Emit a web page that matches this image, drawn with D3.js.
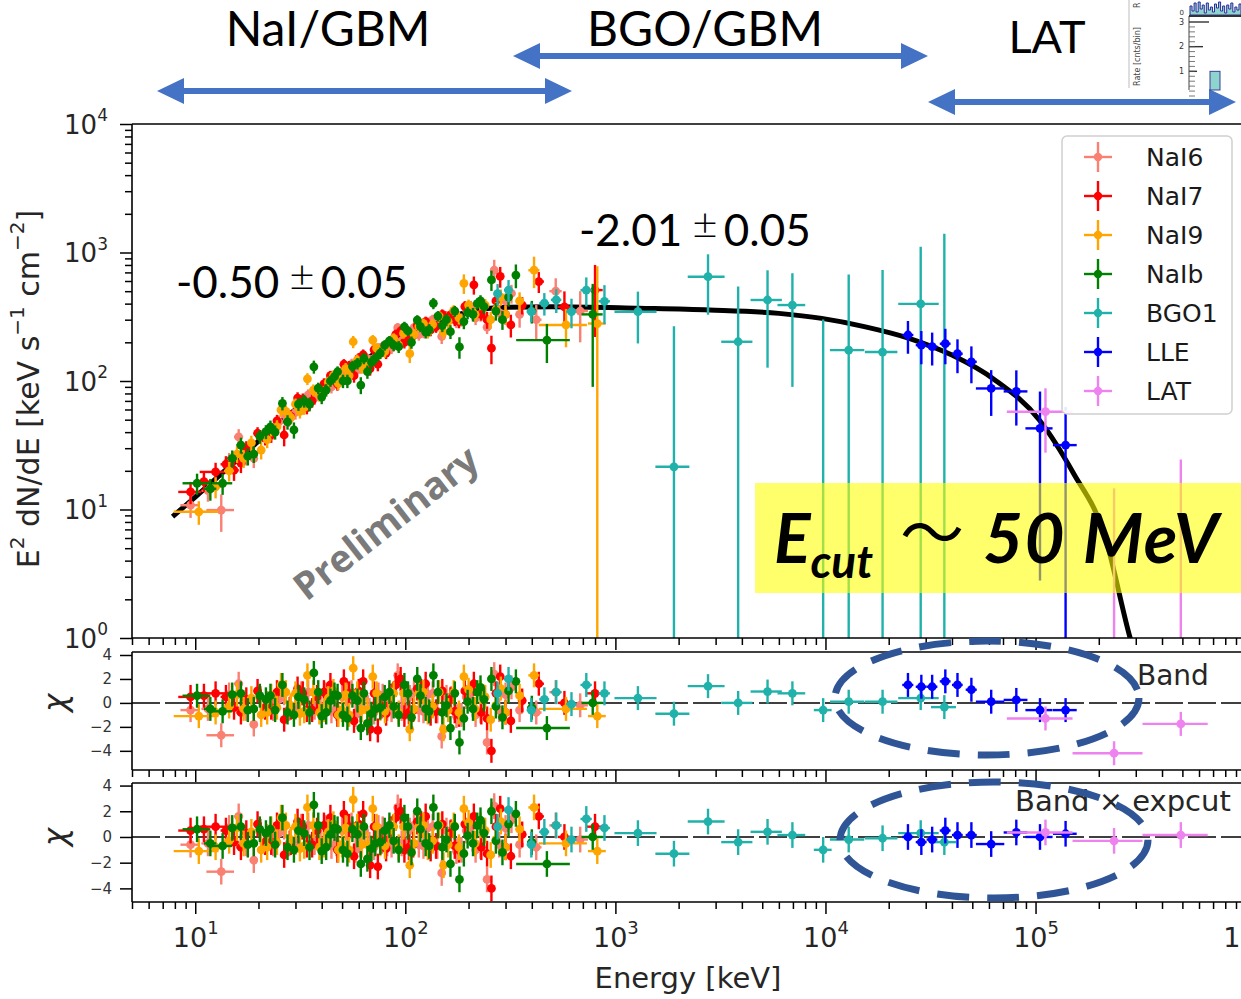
<!DOCTYPE html>
<html>
<head>
<meta charset="utf-8">
<script src="https://cdn.jsdelivr.net/npm/d3@7"></script>
<style>
  body { margin: 0; background: #fff; }
  svg { display: block; }
</style>
</head>
<body>
<div id="chart"></div>
<script>
// ---- data ----
// rows: [energy keV, half bin width keV, E2dN/dE, error, chi (same for both fits)]
const NAI6 = [
  [9.5, 1.0, 10.8, 2.2, -0.6], [13.3, 2.0, 9.9, 3.2, -2.7], [16.1, 0.8, 36.7, 5.5, 1.6],
  [19.0, 0.8, 25.0, 4.0, -1.8], [22.0, 0.9, 38.0, 5.0, 0.0], [25.0, 1.0, 48.0, 6.0, 0.3],
  [28.0, 1.0, 50.0, 6.0, -0.5], [32.0, 1.2, 70.0, 8.0, 0.8], [37.0, 1.3, 74.0, 9.0, -0.4],
  [42.0, 1.5, 95.0, 10.0, 0.7], [47.0, 1.6, 98.0, 11.0, -0.5], [53.0, 1.8, 125.0, 13.0, 0.6],
  [58.0, 2.0, 120.0, 13.0, -1.0], [64.0, 2.2, 155.0, 16.0, 0.5], [71.0, 2.4, 150.0, 16.0, -0.8],
  [78.0, 2.6, 185.0, 18.0, 0.6], [86.0, 2.8, 180.0, 18.0, -0.6], [92.0, 3.0, 260.0, 22.0, 2.3],
  [100.0, 3.2, 215.0, 20.0, -0.4], [110.0, 3.5, 260.0, 24.0, 0.9], [122.0, 4.0, 240.0, 25.0, -0.7],
  [135.0, 4.5, 300.0, 28.0, 0.8], [149.0, 5.0, 222.0, 28.0, -2.8], [165.0, 5.5, 330.0, 32.0, 0.4],
  [185.0, 6.0, 300.0, 35.0, -1.0], [205.0, 7.0, 380.0, 40.0, 0.8], [228.0, 8.0, 330.0, 40.0, -0.7],
  [245.0, 8.0, 262.0, 30.0, -3.3], [265.0, 9.0, 728.0, 150.0, 2.4], [300.0, 12.0, 420.0, 60.0, 0.7],
  [350.0, 15.0, 330.0, 70.0, -0.6], [420.0, 25.0, 300.0, 90.0, -0.8], [520.0, 35.0, 500.0, 130.0, 0.9],
  [680.0, 60.0, 350.0, 150.0, -0.2],
  [11.5, 0.8, 14.0, 2.5, -0.5], [14.5, 0.8, 24.0, 3.5, 0.7], [17.5, 0.8, 26.0, 4.0, -0.5],
  [20.5, 0.8, 37.0, 4.5, 0.4], [23.5, 0.9, 40.0, 5.0, -0.5], [26.5, 1.0, 55.0, 6.0, 0.8],
  [30.0, 1.1, 57.0, 7.0, -0.4], [34.5, 1.2, 78.0, 8.0, 0.9], [39.5, 1.3, 80.0, 9.0, -0.3],
  [44.5, 1.5, 90.0, 10.0, -0.7], [50.0, 1.7, 118.0, 12.0, 0.5], [55.5, 1.9, 135.0, 14.0, 0.9],
  [61.0, 2.1, 128.0, 14.0, -0.6], [67.5, 2.3, 145.0, 15.0, -0.6], [74.5, 2.5, 180.0, 17.0, 0.7],
  [82.0, 2.7, 175.0, 18.0, -0.5], [96.0, 3.1, 205.0, 20.0, -0.5], [105.0, 3.4, 240.0, 22.0, 0.5],
  [116.0, 3.8, 230.0, 24.0, -0.6], [128.0, 4.2, 285.0, 27.0, 0.7], [142.0, 4.6, 270.0, 28.0, -0.7],
  [157.0, 5.2, 320.0, 30.0, 0.5], [175.0, 5.8, 290.0, 32.0, -1.1], [195.0, 6.5, 360.0, 36.0, 0.5],
  [216.0, 7.0, 310.0, 38.0, -1.0], [280.0, 10.0, 340.0, 50.0, -0.6], [320.0, 12.0, 480.0, 80.0, 1.3]
];
const NAI7 = [
  [9.5, 1.2, 13.7, 2.7, 0.5], [12.5, 2.0, 19.6, 3.5, 0.8], [15.3, 0.8, 20.2, 3.5, -0.4],
  [17.5, 0.8, 30.0, 4.0, 0.3], [19.8, 0.8, 39.2, 4.5, 1.0], [23.0, 0.9, 38.0, 5.0, -0.4],
  [26.5, 1.0, 38.0, 7.0, -1.4], [30.7, 1.1, 73.7, 8.0, 1.2], [34.0, 1.2, 62.0, 7.0, -0.6],
  [38.0, 1.3, 85.0, 8.0, 0.5], [44.0, 1.5, 110.0, 10.0, 1.5], [51.0, 1.7, 135.0, 13.0, 1.8],
  [57.0, 1.9, 110.0, 13.0, -1.5], [63.0, 2.1, 160.0, 16.0, 1.8], [68.0, 2.3, 125.0, 15.0, -2.2],
  [74.0, 2.5, 135.0, 16.0, -2.3], [77.0, 2.6, 170.0, 17.0, -0.3], [85.0, 2.8, 205.0, 19.0, 0.6],
  [95.0, 3.0, 245.0, 22.0, 2.0], [104.0, 3.3, 210.0, 21.0, -0.8], [114.0, 3.7, 271.0, 25.0, 1.2],
  [125.0, 4.0, 290.0, 27.0, 1.6], [140.0, 4.5, 265.0, 28.0, -0.7], [164.0, 5.5, 325.0, 32.0, 0.3],
  [180.0, 6.0, 290.0, 33.0, -1.0], [212.0, 7.0, 560.0, 90.0, 1.6], [230.0, 8.0, 330.0, 35.0, -0.8],
  [257.0, 9.0, 180.0, 45.0, -4.0], [283.0, 10.0, 652.0, 120.0, 2.2], [318.0, 13.0, 273.0, 55.0, -1.5],
  [360.0, 16.0, 390.0, 60.0, 0.2], [432.0, 25.0, 594.0, 110.0, 1.6], [572.0, 40.0, 378.0, 120.0, 0.0],
  [800.0, 70.0, 510.0, 290.0, 0.8],
  [11.0, 0.8, 16.5, 2.8, 0.6], [14.0, 0.8, 22.5, 3.5, 0.5], [16.5, 0.8, 23.0, 3.8, -0.8],
  [21.5, 0.9, 36.0, 4.5, -0.4], [24.5, 0.9, 49.0, 5.5, 0.9], [28.5, 1.0, 53.0, 6.5, -0.4],
  [32.5, 1.1, 72.0, 8.0, 0.8], [36.0, 1.2, 70.0, 8.0, -0.6], [41.0, 1.4, 95.0, 10.0, 0.9],
  [47.5, 1.6, 95.0, 11.0, -1.0], [54.0, 1.8, 130.0, 13.0, 0.8], [60.0, 2.0, 150.0, 15.0, 1.0],
  [71.0, 2.4, 175.0, 17.0, 0.8], [81.0, 2.7, 165.0, 17.0, -0.9], [90.0, 3.0, 230.0, 21.0, 1.5],
  [99.0, 3.2, 200.0, 21.0, -1.0], [109.0, 3.6, 225.0, 23.0, -0.6], [119.0, 3.9, 275.0, 26.0, 1.0],
  [132.0, 4.3, 250.0, 27.0, -0.9], [150.0, 5.0, 330.0, 31.0, 1.0], [172.0, 5.7, 300.0, 33.0, -0.7],
  [192.0, 6.3, 380.0, 38.0, 1.0], [245.0, 8.5, 300.0, 45.0, -1.3], [270.0, 9.5, 420.0, 60.0, 0.8],
  [300.0, 11.0, 330.0, 55.0, -0.8]
];
const NAI9 = [
  [10.4, 2.5, 9.6, 2.0, -1.1], [14.5, 0.8, 20.0, 3.5, -0.3], [17.0, 0.8, 25.0, 4.0, -0.5],
  [20.6, 0.8, 29.0, 4.5, -1.0], [23.0, 0.9, 42.0, 5.0, 0.6], [25.6, 1.0, 59.6, 7.0, 1.5],
  [28.5, 1.0, 52.0, 6.0, -0.2], [31.5, 1.1, 58.0, 7.0, -0.9], [34.2, 1.2, 104.0, 11.0, 2.3],
  [39.0, 1.3, 78.0, 9.0, -0.8], [43.0, 1.5, 98.0, 10.0, 0.4], [48.0, 1.6, 96.0, 11.0, -1.0],
  [52.0, 1.7, 125.0, 13.0, 0.7], [56.5, 1.9, 202.0, 22.0, 2.9], [62.0, 2.1, 128.0, 14.0, -0.6],
  [70.0, 2.3, 208.0, 20.0, 2.2], [76.0, 2.5, 165.0, 17.0, -0.5], [84.0, 2.8, 200.0, 19.0, 0.5],
  [93.0, 3.0, 190.0, 20.0, -0.8], [105.0, 3.3, 163.0, 25.0, -2.2], [116.0, 3.7, 265.0, 25.0, 0.8],
  [128.0, 4.0, 240.0, 26.0, -0.8], [152.0, 5.0, 240.0, 28.0, -2.2], [170.0, 5.5, 355.0, 34.0, 0.9],
  [190.0, 6.0, 576.0, 100.0, 2.2], [215.0, 7.0, 330.0, 38.0, -0.5], [240.0, 8.0, 390.0, 45.0, 0.5],
  [270.0, 9.0, 360.0, 50.0, -0.2], [300.0, 10.0, 330.0, 55.0, -0.8], [350.0, 15.0, 420.0, 70.0, 0.6],
  [410.0, 25.0, 728.0, 200.0, 2.3], [582.0, 150.0, 273.0, 90.0, -0.5], [820.0, 80.0, 280.0, 500.0, -1.1],
  [12.5, 0.8, 15.0, 2.8, -0.8], [15.8, 0.8, 27.0, 4.0, 0.7], [18.5, 0.8, 33.0, 4.5, 0.4],
  [22.0, 0.9, 35.0, 5.0, -0.8], [24.5, 0.9, 44.0, 5.5, -0.4], [27.0, 1.0, 58.0, 6.5, 0.9],
  [30.0, 1.1, 66.0, 7.0, 0.8], [33.0, 1.1, 62.0, 7.5, -0.7], [36.5, 1.2, 85.0, 9.0, 0.9],
  [41.0, 1.4, 82.0, 9.5, -0.6], [45.5, 1.5, 110.0, 11.0, 1.0], [50.0, 1.7, 105.0, 12.0, -0.6],
  [54.0, 1.8, 110.0, 13.0, -1.0], [59.0, 2.0, 145.0, 15.0, 0.8], [66.0, 2.2, 140.0, 15.0, -0.6],
  [73.0, 2.4, 180.0, 17.0, 0.8], [80.0, 2.6, 170.0, 18.0, -0.7], [88.0, 2.9, 215.0, 20.0, 0.8],
  [98.0, 3.2, 235.0, 22.0, 0.8], [110.0, 3.6, 230.0, 24.0, -0.5], [122.0, 4.0, 280.0, 26.0, 0.9],
  [135.0, 4.5, 275.0, 28.0, -0.3], [145.0, 4.8, 320.0, 30.0, 0.9], [160.0, 5.3, 290.0, 32.0, -0.6],
  [180.0, 6.0, 310.0, 35.0, -0.8], [200.0, 6.5, 390.0, 40.0, 1.1], [228.0, 7.5, 400.0, 45.0, 0.9],
  [255.0, 8.5, 300.0, 45.0, -1.4], [285.0, 9.5, 450.0, 65.0, 1.2]
];
const NAIB = [
  [10.2, 1.5, 16.0, 3.0, 0.6], [13.5, 1.5, 16.0, 3.0, -0.7], [16.5, 0.8, 31.7, 4.5, 0.8],
  [19.0, 0.8, 27.0, 4.0, -0.5], [21.7, 0.9, 40.3, 5.0, 0.3], [24.0, 0.9, 40.0, 5.0, -0.6],
  [26.0, 1.0, 67.0, 8.0, 1.5], [29.5, 1.0, 41.6, 6.0, -1.0], [33.0, 1.1, 70.0, 8.0, 0.3],
  [36.7, 1.2, 129.0, 15.0, 2.5], [40.0, 1.4, 75.0, 9.0, -1.1], [44.0, 1.5, 100.0, 10.0, 0.2],
  [47.6, 1.6, 118.0, 12.0, 0.6], [53.0, 1.8, 100.0, 12.0, -1.3], [59.2, 2.0, 137.0, 14.0, 0.2],
  [61.4, 2.1, 93.0, 14.0, -2.1], [66.0, 2.2, 118.0, 14.0, -1.7], [72.0, 2.4, 150.0, 16.0, -0.5],
  [79.8, 2.6, 190.0, 18.0, 0.5], [88.0, 2.9, 190.0, 19.0, -0.3], [99.0, 3.2, 264.0, 25.0, 1.5],
  [107.0, 3.5, 200.0, 22.0, -1.2], [114.0, 3.7, 298.0, 27.0, 2.0], [125.0, 4.0, 240.0, 26.0, -0.5],
  [136.0, 4.5, 402.0, 40.0, 2.3], [150.0, 5.0, 270.0, 30.0, -0.8], [164.0, 5.5, 242.0, 30.0, -2.1],
  [181.0, 6.0, 184.0, 35.0, -3.3], [198.0, 6.5, 340.0, 38.0, 0.1], [220.0, 7.0, 400.0, 40.0, 0.9],
  [237.0, 8.0, 379.0, 45.0, 0.3], [257.0, 9.0, 612.0, 110.0, 2.0], [290.0, 10.0, 300.0, 50.0, -1.2],
  [336.0, 14.0, 667.0, 140.0, 1.8], [400.0, 20.0, 350.0, 70.0, -0.4], [472.0, 135.0, 208.0, 70.0, -2.1],
  [780.0, 90.0, 330.0, 240.0, 0.0],
  [11.8, 0.8, 14.5, 2.8, -0.5], [15.0, 0.8, 25.0, 3.8, 0.7], [17.8, 0.8, 26.0, 4.0, -0.6],
  [20.3, 0.8, 37.0, 4.5, 0.6], [22.8, 0.9, 44.0, 5.2, 0.6], [27.5, 1.0, 48.0, 6.2, -0.8],
  [31.0, 1.1, 66.0, 7.5, 0.5], [35.0, 1.2, 66.0, 8.0, -0.8], [38.5, 1.3, 88.0, 9.0, 0.9],
  [42.0, 1.4, 85.0, 9.5, -0.8], [46.0, 1.5, 108.0, 11.0, 0.7], [50.5, 1.7, 100.0, 12.0, -1.0],
  [56.0, 1.9, 130.0, 13.5, 0.6], [63.5, 2.1, 150.0, 15.0, 0.8], [69.0, 2.3, 140.0, 16.0, -0.9],
  [76.0, 2.5, 165.0, 17.0, -0.4], [84.0, 2.8, 205.0, 19.0, 0.9], [93.0, 3.0, 185.0, 20.0, -1.0],
  [103.0, 3.4, 245.0, 22.0, 0.8], [118.0, 3.9, 265.0, 25.0, 0.6], [130.0, 4.3, 250.0, 27.0, -0.7],
  [143.0, 4.7, 320.0, 30.0, 0.9], [157.0, 5.2, 300.0, 31.0, -0.2], [172.0, 5.7, 350.0, 34.0, 0.8],
  [190.0, 6.3, 290.0, 37.0, -1.3], [210.0, 7.0, 330.0, 40.0, -0.5], [228.0, 7.5, 420.0, 45.0, 1.3],
  [270.0, 9.5, 350.0, 55.0, -0.3], [310.0, 11.0, 450.0, 70.0, 1.0]
];
// rows: [energy, half width, E2dN/dE, error, chi Band, chi Band x expcut]
const BGO1 = [
  [275, 12, 478, 90, 0.8, 0.8], [310, 15, 510, 100, 2.0, 2.1], [398, 20, 347, 60, -0.6, -0.6],
  [459, 25, 403, 80, 0.3, 0.4], [523, 30, 428, 90, 0.9, 0.9], [618, 35, 347, 90, -0.1, -0.2],
  [727, 45, 510, 130, 1.5, 1.4], [887, 55, 417, 140, 0.8, 0.7], [1280, 290, 346, 150, 0.4, 0.3],
  [1900, 350, 21.5, 245, -0.9, -1.3], [2760, 550, 648, 320, 1.4, 1.2], [3840, 650, 202, 342, 0.0, -0.4],
  [5300, 900, 427, 300, 0.95, 0.4], [6960, 1050, 390, 300, 0.8, 0.15], [9750, 950, 0.5, 300, -0.6, -1.0],
  [12900, 2400, 174, 500, 0.1, -0.2], [18700, 3300, 168, 563, 0.1, -0.1], [28400, 6200, 398, 712, 0.4, 0.3],
  [36800, 5000, 0.5, 1400, -0.35, -0.4]
];
const LLE = [
  [24700, 1500, 228, 65, 1.5, 0.0], [28600, 1700, 190, 55, 1.35, -0.4], [32200, 1900, 185, 53, 1.35, -0.2],
  [37200, 2200, 195, 60, 1.8, 0.5], [42500, 2500, 163, 48, 1.5, 0.15], [49500, 3000, 141, 45, 1.1, 0.15],
  [61500, 9500, 87.5, 34, 0.1, -0.55], [81000, 10500, 83, 38, 0.25, 0.35], [105000, 15500, 42.8, 40, -0.6, 0.0],
  [139000, 18000, 31.7, 31, -0.6, 0.25]
];
const LAT = [
  [111500, 38500, 57.7, 30, -1.3, 0.35], [236500, 86500, 0.6, 14, -4.2, -0.3],
  [491500, 168500, 0.5, 24, -1.75, 0.15]
];
// best fit model curve (Band x exponential cutoff)
const MODEL_E = [7.8, 10, 15, 20, 30, 50, 70, 100, 150, 200, 300, 500, 1300, 2800, 6000, 9600,
                 15500, 25000, 40000, 64000, 104000, 152000, 212000, 282000, 320000];
const MODEL_F = [8.8, 12.5, 22.5, 34, 60, 112, 160, 225, 300, 345, 375, 378, 368, 357, 336, 307,
                 264, 215, 159, 102, 50, 19, 6.5, 1.0, 0.5];

const SERIES_NAMES = ["NaI6", "NaI7", "NaI9", "NaIb", "BGO1", "LLE", "LAT"];
const SERIES_COLORS = ["#fa8072", "#ff0000", "#ffa500", "#008000", "#20b2aa", "#0000ff", "#ee82ee"];
const SERIES_DATA = [NAI6, NAI7, NAI9, NAIB, BGO1, LLE, LAT];

const X_MAJOR = [1e1, 1e2, 1e3, 1e4, 1e5, 1e6];
const X_EXP = ["1", "2", "3", "4", "5", "6"];
const Y_MAJOR = [1, 10, 100, 1000, 10000];
const Y_EXP = ["0", "1", "2", "3", "4"];
const RES_TICKS = [-4, -2, 0, 2, 4];
const RES_LABELS = ["\u22124", "\u22122", "0", "2", "4"];

// ---- layout ----
const W = 1241, H = 999;
const LEFT = 132, RIGHT = 1273;
const MAIN = {top: 124, bottom: 638};
const RES1 = {top: 652, bottom: 770};
const RES2 = {top: 783, bottom: 902};
const AXIS_FONT = "DejaVu Sans, sans-serif";
const SLIDE_FONT = "Lato, 'Open Sans', sans-serif";

const svg = d3.select("#chart").append("svg")
    .attr("width", W).attr("height", H)
    .attr("viewBox", `0 0 ${W} ${H}`);

const x = d3.scaleLog().domain([5, 1.35e6]).range([LEFT, RIGHT]);
const yMain = d3.scaleLog().domain([1, 1e4]).range([MAIN.bottom, MAIN.top]);
const yR1 = d3.scaleLinear().domain([-5.6, 4.25]).range([RES1.bottom, RES1.top]);
const yR2 = d3.scaleLinear().domain([-5.06, 4.2]).range([RES2.bottom, RES2.top]);

// minor tick values for log axes, kept inside the domain
function minors(scale) {
  const [lo, hi] = scale.domain();
  const out = [];
  for (let d = 1; d < hi; d *= 10) {
    for (let k = 2; k <= 9; k++) if (d * k >= lo && d * k <= hi) out.push(d * k);
  }
  return out;
}
const X_MINOR = minors(x);
const Y_MINOR = minors(yMain);

// clip paths
const defs = svg.append("defs");
[["clipMain", MAIN], ["clipR1", RES1], ["clipR2", RES2]].forEach(([id, p]) => {
  defs.append("clipPath").attr("id", id).append("rect")
      .attr("x", LEFT).attr("y", p.top).attr("width", W - LEFT).attr("height", p.bottom - p.top);
});

// ---- error bar drawing ----
function errorbars(g, rows, color, yS, getV, getE, isLog) {
  const floor = yS.range()[0] + 30;
  const yv = v => (isLog ? (v > 0 ? yS(v) : floor) : yS(v));
  const s = g.append("g").attr("stroke", color).attr("stroke-width", 2.4);
  s.selectAll("line.v").data(rows).join("line")
      .attr("x1", d => x(d[0])).attr("x2", d => x(d[0]))
      .attr("y1", d => yv(getV(d) + getE(d))).attr("y2", d => yv(getV(d) - getE(d)));
  s.selectAll("line.h").data(rows).join("line")
      .attr("x1", d => x(d[0] - d[1])).attr("x2", d => x(d[0] + d[1]))
      .attr("y1", d => yv(getV(d))).attr("y2", d => yv(getV(d)));
  g.append("g").attr("fill", color).selectAll("circle").data(rows).join("circle")
      .attr("cx", d => x(d[0])).attr("cy", d => yv(getV(d))).attr("r", 4.4);
}

// ---- main panel ----
const gMain = svg.append("g").attr("clip-path", "url(#clipMain)");
const model = MODEL_E.map((e, i) => [e, MODEL_F[i]]);
gMain.append("path")
    .datum(model)
    .attr("fill", "none").attr("stroke", "#000").attr("stroke-width", 5)
    .attr("d", d3.line().x(d => x(d[0])).y(d => yMain(d[1])).curve(d3.curveMonotoneX));

SERIES_DATA.forEach((rows, i) => {
  errorbars(gMain, rows, SERIES_COLORS[i], yMain, d => d[2], d => d[3], true);
});

// ---- residual panels ----
const gR1 = svg.append("g").attr("clip-path", "url(#clipR1)");
const gR2 = svg.append("g").attr("clip-path", "url(#clipR2)");
[[gR1, yR1], [gR2, yR2]].forEach(([g, yS]) => {
  g.append("line")
      .attr("x1", LEFT).attr("x2", W).attr("y1", yS(0)).attr("y2", yS(0))
      .attr("stroke", "#000").attr("stroke-width", 1.5).attr("stroke-dasharray", "28,5");
});
SERIES_DATA.forEach((rows, i) => {
  errorbars(gR1, rows, SERIES_COLORS[i], yR1, d => d[4], () => 1, false);
  errorbars(gR2, rows, SERIES_COLORS[i], yR2, d => (d.length > 5 ? d[5] : d[4]), () => 1, false);
});

// ---- frames and axes ----
function frame(p) {
  const f = svg.append("g").attr("stroke", "#000").attr("stroke-width", 1.6);
  f.append("line").attr("x1", LEFT).attr("x2", W).attr("y1", p.top).attr("y2", p.top);
  f.append("line").attr("x1", LEFT).attr("x2", W).attr("y1", p.bottom).attr("y2", p.bottom);
  f.append("line").attr("x1", LEFT).attr("x2", LEFT).attr("y1", p.top).attr("y2", p.bottom);
}
[MAIN, RES1, RES2].forEach(frame);

function styleAxis(g) {
  g.select(".domain").remove();
  g.selectAll(".tick line").attr("stroke", "#000").attr("stroke-width", 1.5);
}

// x ticks under every panel, labels only under the last
[MAIN, RES1, RES2].forEach((p, i) => {
  const gx = svg.append("g").attr("transform", `translate(0,${p.bottom})`);
  gx.append("g").call(d3.axisBottom(x).tickValues(X_MINOR).tickSize(7).tickFormat("")).call(styleAxis);
  const maj = gx.append("g").call(d3.axisBottom(x).tickValues(X_MAJOR).tickSize(12).tickPadding(14).tickFormat(""))
      .call(styleAxis);
  if (i === 2) {
    maj.selectAll(".tick text")
        .attr("font-family", AXIS_FONT).attr("font-size", 27).attr("fill", "#262626")
        .attr("dy", "0.71em")
        .each(function(d, k) {
          const t = d3.select(this);
          t.append("tspan").text("10");
          t.append("tspan").attr("font-size", 18).attr("dy", "-0.75em").text(X_EXP[k]);
        });
  }
});

// main y axis
const gy = svg.append("g").attr("transform", `translate(${LEFT},0)`);
gy.append("g").call(d3.axisLeft(yMain).tickValues(Y_MINOR).tickSize(7).tickFormat("")).call(styleAxis);
gy.append("g").call(d3.axisLeft(yMain).tickValues(Y_MAJOR).tickSize(12).tickPadding(12).tickFormat(""))
    .call(styleAxis)
    .selectAll(".tick text")
    .attr("font-family", AXIS_FONT).attr("font-size", 26).attr("fill", "#262626")
    .attr("dy", "0.36em")
    .each(function(d, k) {
      const t = d3.select(this);
      t.append("tspan").text("10");
      t.append("tspan").attr("font-size", 17).attr("dy", "-0.75em").text(Y_EXP[k]);
    });

// residual y axes
[yR1, yR2].forEach(yS => {
  svg.append("g").attr("transform", `translate(${LEFT},0)`)
      .call(d3.axisLeft(yS).tickValues(RES_TICKS).tickSize(12).tickPadding(8)
          .tickFormat((d, k) => RES_LABELS[k]))
      .call(styleAxis)
      .selectAll(".tick text")
      .attr("font-family", AXIS_FONT).attr("font-size", 15).attr("fill", "#333");
});

// axis titles
svg.append("text")
    .attr("x", 688).attr("y", 988).attr("text-anchor", "middle")
    .attr("font-family", AXIS_FONT).attr("font-size", 29).attr("fill", "#262626")
    .text("Energy [keV]");

const yt = svg.append("text")
    .attr("transform", "translate(39,389) rotate(-90)").attr("text-anchor", "middle")
    .attr("font-family", AXIS_FONT).attr("font-size", 30).attr("fill", "#262626");
yt.append("tspan").text("E");
yt.append("tspan").attr("font-size", 20).attr("dy", "-0.75em").text("2");
yt.append("tspan").attr("dy", "0.5em").text(" dN/dE [keV s");
yt.append("tspan").attr("font-size", 20).attr("dy", "-0.75em").text("\u22121");
yt.append("tspan").attr("dy", "0.5em").text(" cm");
yt.append("tspan").attr("font-size", 20).attr("dy", "-0.75em").text("\u22122");
yt.append("tspan").attr("dy", "0.5em").text("]");

[yR1, yR2].forEach(yS => {
  svg.append("text")
      .attr("transform", `translate(66,${yS(0)}) rotate(-90)`).attr("text-anchor", "middle")
      .attr("font-family", AXIS_FONT).attr("font-size", 31).attr("font-style", "italic")
      .attr("fill", "#262626").text("\u03c7");
});

// fit labels in residual panels
svg.append("text").attr("x", 1137).attr("y", 685)
    .attr("font-family", AXIS_FONT).attr("font-size", 28).attr("fill", "#262626").text("Band");
svg.append("text").attr("x", 1015).attr("y", 811)
    .attr("font-family", AXIS_FONT).attr("font-size", 29).attr("fill", "#262626").text("Band \u00d7 expcut");

// ---- legend ----
const lg = svg.append("g");
lg.append("rect").attr("x", 1062).attr("y", 136).attr("width", 170).attr("height", 278).attr("rx", 5)
    .attr("fill", "#fff").attr("fill-opacity", 0.9).attr("stroke", "#d0d0d0").attr("stroke-width", 1.5);
SERIES_NAMES.forEach((name, i) => {
  const cy = 157 + i * 39;
  const it = lg.append("g").attr("stroke", SERIES_COLORS[i]).attr("stroke-width", 2.4);
  it.append("line").attr("x1", 1084).attr("x2", 1112).attr("y1", cy).attr("y2", cy);
  it.append("line").attr("x1", 1098).attr("x2", 1098).attr("y1", cy - 15).attr("y2", cy + 15);
  lg.append("circle").attr("cx", 1098).attr("cy", cy).attr("r", 4.2).attr("fill", SERIES_COLORS[i]);
  lg.append("text").attr("x", 1146).attr("y", cy).attr("dy", "0.36em")
      .attr("font-family", AXIS_FONT).attr("font-size", 25).attr("fill", "#1a1a1a").text(name);
});

// ---- slide annotations ----
svg.append("text")
    .attr("transform", "translate(386,523) rotate(-38)").attr("text-anchor", "middle").attr("dy", "0.35em")
    .attr("font-family", "'Open Sans', sans-serif").attr("font-weight", "bold").attr("font-size", 38)
    .attr("fill", "#7a7a7a").text("Preliminary");

function indexLabel(x0, y0, a, b) {
  const t = svg.append("text").attr("x", x0).attr("y", y0)
      .attr("font-family", SLIDE_FONT).attr("font-size", 44).attr("fill", "#000");
  t.append("tspan").text(a);
  t.append("tspan").attr("font-size", 44).attr("dx", 10).attr("dy", -7).attr("font-weight", 300).text("\u00b1");
  t.append("tspan").attr("dx", 6).attr("dy", 7).text(b);
}
indexLabel(176, 298, "-0.50", "0.05");
indexLabel(579, 246, "-2.01", "0.05");

// yellow highlight with cutoff energy
svg.append("rect").attr("x", 755).attr("y", 483).attr("width", W - 755).attr("height", 110)
    .attr("fill", "#ffff00").attr("fill-opacity", 0.58);
const ec = svg.append("text").attr("x", 774).attr("y", 563)
    .attr("font-family", SLIDE_FONT).attr("font-weight", "bold").attr("font-style", "italic")
    .attr("font-size", 68).attr("fill", "#000");
ec.append("tspan").text("E");
ec.append("tspan").attr("font-size", 46).attr("dy", 15).text("cut");
svg.append("text").attr("x", 900).attr("y", 556)
    .attr("font-family", "'Noto Sans CJK JP', sans-serif").attr("font-size", 64).attr("fill", "#000").text("\uff5e");
svg.append("text").attr("x", 983).attr("y", 563)
    .attr("font-family", SLIDE_FONT).attr("font-weight", "bold").attr("font-style", "italic")
    .attr("font-size", 69).attr("letter-spacing", 1.5).attr("fill", "#000").text("50 MeV");

// dashed ellipses round the high energy residuals
svg.append("g").attr("fill", "none").attr("stroke", "#2f5597").attr("stroke-width", 7)
    .attr("stroke-dasharray", "32,18")
    .selectAll("ellipse").data([[987, 698, 152, 57], [994, 840, 154, 58]]).join("ellipse")
    .attr("cx", d => d[0]).attr("cy", d => d[1]).attr("rx", d => d[2]).attr("ry", d => d[3]);

// instrument ranges
function arrow(x1, x2, yc) {
  const hl = 27, hh = 13, t = 3;
  const p = `M${x1},${yc} L${x1 + hl},${yc - hh} L${x1 + hl},${yc - t} L${x2 - hl},${yc - t} L${x2 - hl},${yc - hh}
             L${x2},${yc} L${x2 - hl},${yc + hh} L${x2 - hl},${yc + t} L${x1 + hl},${yc + t} L${x1 + hl},${yc + hh} Z`;
  svg.append("path").attr("d", p).attr("fill", "#4472c4");
}
arrow(157, 572, 91);
arrow(513, 928, 56);
arrow(928, 1236, 102);

[["NaI/GBM", 328, 46, 48], ["BGO/GBM", 705, 46, 48], ["LAT", 1047, 53, 45]].forEach(([s, cx, by, fs]) => {
  svg.append("text").attr("x", cx).attr("y", by).attr("text-anchor", "middle")
      .attr("font-family", SLIDE_FONT).attr("font-size", fs).attr("fill", "#000").text(s);
});

// pasted light curve snippet in the top right corner
const INSET_LEVELS = ["3", "2", "1"];
const INSET_HIST = [9, 4, 12, 3, 13, 6, 10, 2, 12, 5, 8, 3, 11, 7, 13, 4, 9, 2, 10, 6, 12, 3, 8, 5, 11, 4];
const ins = svg.append("g");
ins.append("line").attr("x1", 1129).attr("x2", 1129).attr("y1", 0).attr("y2", 88)
    .attr("stroke", "#c8c8c8").attr("stroke-width", 1.2);
ins.append("text").attr("transform", "translate(1140,86) rotate(-90)")
    .attr("font-family", AXIS_FONT).attr("font-size", 8).attr("fill", "#444").text("Rate [cnts/bin]");
ins.append("text").attr("transform", "translate(1140,8) rotate(-90)")
    .attr("font-family", AXIS_FONT).attr("font-size", 8).attr("fill", "#444").text("R");
const insY = d3.scaleLinear().domain([0, 3]).range([96, 22]);
ins.append("line").attr("x1", 1189).attr("x2", 1189).attr("y1", 16).attr("y2", 90)
    .attr("stroke", "#444").attr("stroke-width", 1);
INSET_LEVELS.forEach(l => {
  ins.append("text").attr("x", 1184).attr("y", insY(+l)).attr("dy", "0.35em").attr("text-anchor", "end")
      .attr("font-family", AXIS_FONT).attr("font-size", 8).attr("fill", "#333").text(l);
  ins.append("line").attr("x1", 1189).attr("x2", 1189 + (+l) * 6 + 2).attr("y1", insY(+l)).attr("y2", insY(+l))
      .attr("stroke", "#333").attr("stroke-width", 1.4);
});
d3.range(0, 3, 0.2).forEach(v => {
  ins.append("line").attr("x1", 1189).attr("x2", 1195).attr("y1", insY(v)).attr("y2", insY(v))
      .attr("stroke", "#555").attr("stroke-width", 0.8);
});
ins.append("rect").attr("x", 1210).attr("y", insY(1)).attr("width", 10).attr("height", 90 - insY(1))
    .attr("fill", "#8fd3cf").attr("stroke", "#3a3f9a").attr("stroke-width", 1);
const hx = d3.scaleLinear().domain([0, INSET_HIST.length - 1]).range([1190, 1241]);
ins.append("path").datum(INSET_HIST)
    .attr("fill", "#8fd3cf").attr("stroke", "#2a2a9a").attr("stroke-width", 1)
    .attr("d", d3.area().x((d, i) => hx(i)).y0(15).y1(d => 15 - d).curve(d3.curveStepAfter));
ins.append("line").attr("x1", 1189).attr("x2", 1241).attr("y1", 16).attr("y2", 16)
    .attr("stroke", "#333").attr("stroke-width", 2);
ins.append("text").attr("x", 1184).attr("y", 15).attr("text-anchor", "end")
    .attr("font-family", AXIS_FONT).attr("font-size", 7).attr("fill", "#333").text("0");
</script>
</body>
</html>
